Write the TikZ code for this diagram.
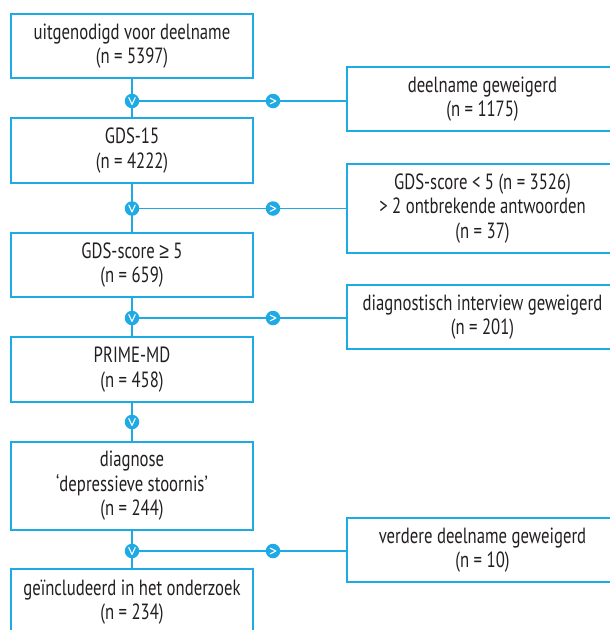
\documentclass[tikz,border=0pt]{standalone}
\usepackage{fontspec}
\setmainfont{PT Sans}[FakeStretch=0.76]
\newfontfamily\symfont{Liberation Sans}[FakeStretch=0.8]
\usetikzlibrary{backgrounds}
\definecolor{flowcyan}{RGB}{30,170,228}
\definecolor{txt}{RGB}{35,31,32}
\begin{document}
\begin{tikzpicture}[x=1pt,y=-1pt,
  box/.style={draw=flowcyan, line width=1.7pt, rectangle, inner sep=0pt, align=center,
    text=txt, font=\fontsize{22}{24.5}\selectfont},
  lbox/.style={box, minimum width=242pt},
  rbox/.style={box, minimum width=271pt},
  conn/.style={draw=flowcyan, line width=1.5pt},
  dot/.style={circle, fill=flowcyan, minimum size=14.5pt, inner sep=0pt},
  vdot/.style={dot, path picture={\draw[white, line width=1.1pt, line cap=round, line join=round]
     ([shift={(-3.2pt,3.5pt)}]path picture bounding box.center) --
     ([shift={(0pt,-3.5pt)}]path picture bounding box.center) --
     ([shift={(3.2pt,3.5pt)}]path picture bounding box.center);}},
  hdot/.style={dot, path picture={\draw[white, line width=1.1pt, line cap=round, line join=round]
     ([shift={(-2.8pt,2.8pt)}]path picture bounding box.center) --
     ([shift={(2.8pt,0pt)}]path picture bounding box.center) --
     ([shift={(-2.8pt,-2.8pt)}]path picture bounding box.center);}}
]
\useasboundingbox (0,0) rectangle (610,630);
\clip (0,0) rectangle (610,630);

% left column
\node[lbox, minimum height=64pt] (b1) at (132,46) {uitgenodigd voor deelname\\(n = 5397)};
\node[lbox, minimum height=65pt] (b2) at (132,150.5) {GDS-15\\(n = 4222)};
\node[lbox, minimum height=64pt] (b3) at (132,265) {GDS-score {\symfont ≥} 5\\(n = 659)};
\node[lbox, minimum height=65pt] (b4) at (132,369.5) {PRIME-MD\\(n = 458)};
\node[lbox, minimum height=88pt] (b5) at (132,486) {diagnose\\‘depressieve stoornis’\\(n = 244)};
\node[lbox, minimum height=66pt] (b6) at (132,602) {geïncludeerd in het onderzoek\\(n = 234)};

% right column
\node[rbox, minimum height=64pt] (r1) at (482.5,99) {deelname geweigerd\\(n = 1175)};
\node[rbox, minimum height=89pt] (r2) at (482.5,208.5) {GDS-score < 5 (n = 3526)\\> 2 ontbrekende antwoorden\\(n = 37)};
\node[rbox, minimum height=64pt] (r3) at (482.5,317) {diagnostisch interview geweigerd\\(n = 201)};
\node[rbox, minimum height=64pt] (r4) at (482.5,550) {verdere deelname geweigerd\\(n = 10)};

% junction markers
\node[vdot] (v1) at (132,101) {};
\node[hdot] (h1) at (273,101) {};
\node[vdot] (v2) at (132,208.5) {};
\node[hdot] (h2) at (273,208.5) {};
\node[vdot] (v3) at (132,318) {};
\node[hdot] (h3) at (273,318) {};
\node[vdot] (v4) at (132,422) {};
\node[vdot] (v5) at (132,551) {};
\node[hdot] (h5) at (273,551) {};

\begin{scope}[on background layer]
  \path[conn] (b1.south) -- (b2.north);
  \path[conn] (b2.south) -- (b3.north);
  \path[conn] (b3.south) -- (b4.north);
  \path[conn] (b4.south) -- (b5.north);
  \path[conn] (b5.south) -- (b6.north);
  \path[conn] (v1.center) -- (v1.center -| r1.west);
  \path[conn] (v2.center) -- (v2.center -| r2.west);
  \path[conn] (v3.center) -- (v3.center -| r3.west);
  \path[conn] (v5.center) -- (v5.center -| r4.west);
\end{scope}
\end{tikzpicture}
\end{document}
